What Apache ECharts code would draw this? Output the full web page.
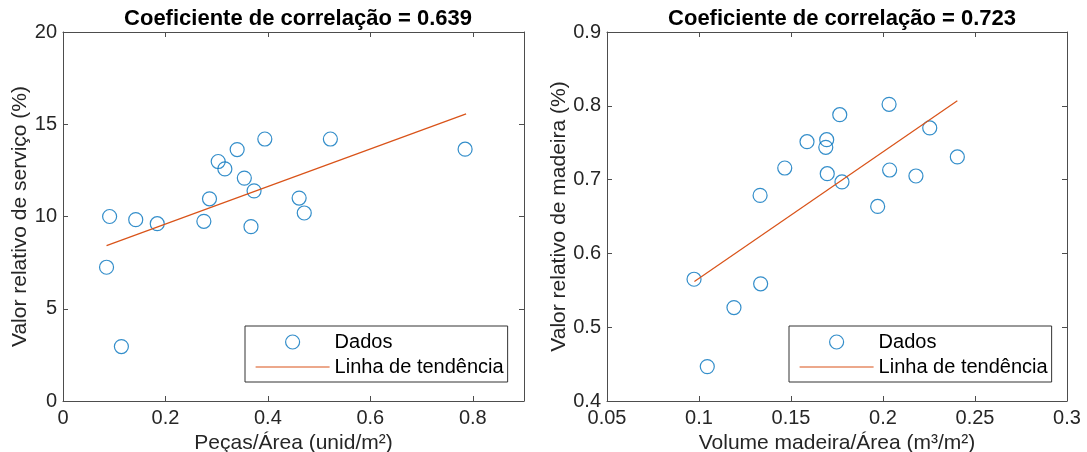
<!DOCTYPE html>
<html>
<head>
<meta charset="utf-8">
<script src="https://cdn.jsdelivr.net/npm/echarts@6/dist/echarts.min.js"></script>
<style>
  html, body { margin: 0; padding: 0; background: #fff; }
  #chart { width: 1087px; height: 452px; }
</style>
</head>
<body>
<div id="chart"></div>
<script>
// esquerda: peças/área x valor relativo de serviço
const pecasArea = [0.091, 0.142, 0.184, 0.085, 0.114, 0.275, 0.286, 0.303, 0.316, 0.340, 0.354, 0.373, 0.367, 0.394, 0.461, 0.471, 0.522, 0.785]
const valorServico = [10.0, 9.83, 9.61, 7.25, 2.95, 9.74, 10.96, 12.98, 12.58, 13.63, 12.08, 11.39, 9.45, 14.2, 11.0, 10.19, 14.2, 13.65]
const tendenciaServico = [[0.085, 8.42], [0.787, 15.56]]

// direita: volume madeira/área x valor relativo de madeira
const volumeArea = [0.0973, 0.1045, 0.119, 0.1335, 0.1332, 0.1466, 0.1587, 0.1694, 0.1689, 0.1697, 0.1765, 0.1777, 0.1971, 0.2033, 0.2036, 0.2179, 0.2254, 0.2404]
const valorMadeira = [0.565, 0.4466, 0.5266, 0.5588, 0.6786, 0.7157, 0.7514, 0.7541, 0.7437, 0.708, 0.788, 0.6968, 0.6636, 0.802, 0.713, 0.7049, 0.77, 0.7307]
const tendenciaMadeira = [[0.0975, 0.562], [0.2404, 0.807]]

const titulos = ['Coeficiente de correlação = 0.639', 'Coeficiente de correlação = 0.723']
const nomesX = ['Peças/Área (unid/m²)', 'Volume madeira/Área (m³/m²)']
const nomesY = ['Valor relativo de serviço (%)', 'Valor relativo de madeira (%)']

const FONT = '"Liberation Sans", Arial, sans-serif'
const AZUL = '#0072BD'
const LARANJA = '#D95319'
const EIXO = '#4d4d4d'

function pares(xs, ys) {
  return xs.map((x, i) => [x, ys[i]])
}

function eixoX(grid, min, max, interval, nome, principal) {
  return {
    type: 'value', gridIndex: grid, min: min, max: max, interval: interval,
    position: principal ? 'bottom' : 'top',
    name: principal ? nome : '',
    nameLocation: 'middle', nameGap: 26,
    nameTextStyle: { fontFamily: FONT, fontSize: 21, color: '#262626' },
    axisLine: { show: true, onZero: false, lineStyle: { color: EIXO, width: 1 } },
    axisTick: { show: true, inside: true, length: 5, lineStyle: { color: EIXO } },
    axisLabel: { show: principal, fontFamily: FONT, fontSize: 20, color: '#262626', margin: 7, showMaxLabel: grid === 1 },
    splitLine: { show: false }
  }
}

function eixoY(grid, min, max, interval, nome, principal, gap) {
  return {
    type: 'value', gridIndex: grid, min: min, max: max, interval: interval,
    position: principal ? 'left' : 'right',
    name: principal ? nome : '',
    nameLocation: 'middle', nameGap: gap,
    nameTextStyle: { fontFamily: FONT, fontSize: 21, color: '#262626' },
    axisLine: { show: true, onZero: false, lineStyle: { color: EIXO, width: 1 } },
    axisTick: { show: true, inside: true, length: 5, lineStyle: { color: EIXO } },
    axisLabel: { show: principal, fontFamily: FONT, fontSize: 20, color: '#262626', margin: 6 },
    splitLine: { show: false }
  }
}

function legenda(left) {
  return {
    orient: 'vertical', left: left, top: 326,
    padding: [6, 4, 5, 10], itemGap: 5,
    itemWidth: 74, itemHeight: 14,
    borderColor: '#333', borderWidth: 1, backgroundColor: '#fff',
    textStyle: { fontFamily: FONT, fontSize: 20, color: '#000' },
    selectedMode: false,
    data: [
      { name: 'Dados', icon: 'circle', itemStyle: { color: 'rgba(0,0,0,0)', borderColor: AZUL, borderWidth: 1.2 } },
      { name: 'Linha de tendência', itemStyle: { color: 'rgba(0,0,0,0)', borderWidth: 0, opacity: 0 }, lineStyle: { color: LARANJA, width: 1.2 } }
    ]
  }
}

function dispersao(i, dados) {
  return {
    name: 'Dados', type: 'scatter', xAxisIndex: i * 2, yAxisIndex: i * 2,
    symbol: 'circle', symbolSize: 14,
    itemStyle: { color: 'rgba(0,0,0,0)', borderColor: AZUL, borderWidth: 1.2 },
    data: dados
  }
}

function tendencia(i, dados) {
  return {
    name: 'Linha de tendência', type: 'line', xAxisIndex: i * 2, yAxisIndex: i * 2,
    symbol: 'none', lineStyle: { color: LARANJA, width: 1.2 }, itemStyle: { color: LARANJA },
    data: dados, z: 3
  }
}

const chart = echarts.init(document.getElementById('chart'))

const option = {
  animation: false,
  title: [
    { text: titulos[0], left: 293, top: 3, textAlign: 'center', textStyle: { fontFamily: FONT, fontSize: 22, fontWeight: 'bold', color: '#000' } },
    { text: titulos[1], left: 837, top: 3, textAlign: 'center', textStyle: { fontFamily: FONT, fontSize: 22, fontWeight: 'bold', color: '#000' } }
  ],
  grid: [
    { left: 63, top: 32, width: 461, height: 369, outerBoundsMode: 'none' },
    { left: 607, top: 32, width: 460, height: 369, outerBoundsMode: 'none' }
  ],
  xAxis: [
    eixoX(0, 0, 0.9, 0.2, nomesX[0], true),
    eixoX(0, 0, 0.9, 0.2, '', false),
    eixoX(1, 0.05, 0.3, 0.05, nomesX[1], true),
    eixoX(1, 0.05, 0.3, 0.05, '', false)
  ],
  yAxis: [
    eixoY(0, 0, 20, 5, nomesY[0], true, 30),
    eixoY(0, 0, 20, 5, '', false, 0),
    eixoY(1, 0.4, 0.9, 0.1, nomesY[1], true, 34),
    eixoY(1, 0.4, 0.9, 0.1, '', false, 0)
  ],
  legend: [legenda(245), legenda(789)],
  series: [
    dispersao(0, pares(pecasArea, valorServico)),
    tendencia(0, tendenciaServico),
    dispersao(1, pares(volumeArea, valorMadeira)),
    tendencia(1, tendenciaMadeira)
  ]
}

chart.setOption(option)
</script>
</body>
</html>
